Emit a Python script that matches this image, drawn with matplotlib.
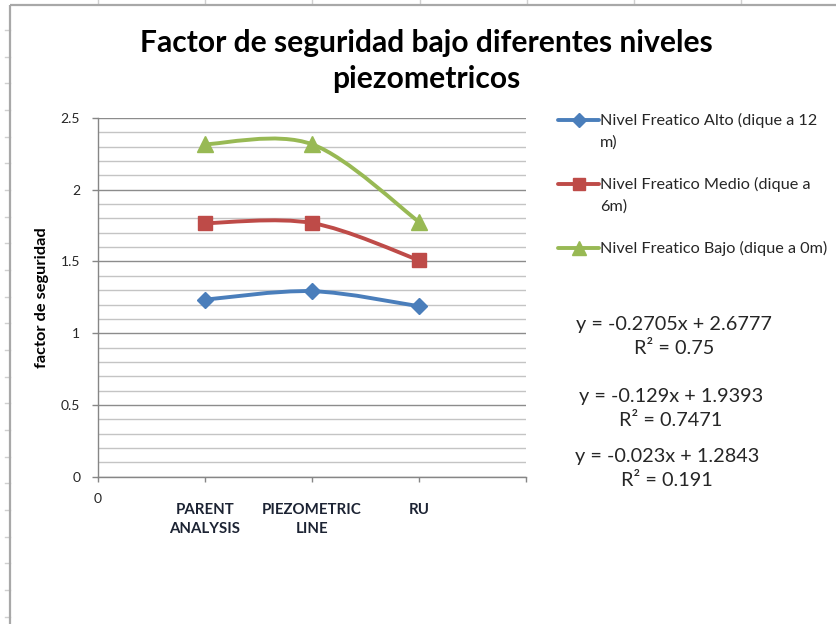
import numpy as np
import matplotlib
matplotlib.use("Agg")
import matplotlib.pyplot as plt
from matplotlib.path import Path
from matplotlib.patches import PathPatch
from matplotlib.lines import Line2D
from matplotlib.ticker import MultipleLocator

plt.rcParams['font.family'] = ['Lato', 'DejaVu Sans']

# ---- data ----
categories = ["PARENT\nANALYSIS", "PIEZOMETRIC\nLINE", "RU"]
cat_pos = [1, 2, 3]

alto = [1.234, 1.293, 1.188]
medio = [1.767, 1.768, 1.509]
bajo = [2.317, 2.317, 1.776]

series_values = [alto, medio, bajo]
series_labels = ["Nivel Freatico Alto (dique a 12\nm)",
                 "Nivel Freatico Medio (dique a\n6m)",
                 "Nivel Freatico Bajo (dique a 0m)"]
series_colors = ["#4A7EBB", "#BE4B48", "#98B954"]
series_markers = ["D", "s", "^"]
series_msize = [8.5, 10.5, 12]

trend_texts = ["y = -0.2705x + 2.6777\nR² = 0.75",
               "y = -0.129x + 1.9393\nR² = 0.7471",
               "y = -0.023x + 1.2843\nR² = 0.191"]

ytick_vals = [0, 0.5, 1, 1.5, 2, 2.5]
ytick_labels = ["0", "0.5", "1", "1.5", "2", "2.5"]

title = "Factor de seguridad bajo diferentes niveles\npiezometricos"
ylabel = "factor de seguridad"

W, H, DPI = 837, 624, 100
TXT = "#262626"
AXIS = "#868686"


def fx(px):
    return px / W


def fy(py):
    return 1 - py / H


def smooth_path(xs, ys):
    """Bezier path through the points (Catmull-Rom style tangents)."""
    pts = np.column_stack([xs, ys]).astype(float)
    n = len(pts)
    verts = [pts[0]]
    codes = [Path.MOVETO]
    for i in range(n - 1):
        p_prev = pts[i - 1] if i > 0 else pts[i]
        p0, p1 = pts[i], pts[i + 1]
        p_next = pts[i + 2] if i + 2 < n else pts[i + 1]
        verts += [p0 + (p1 - p_prev) / 6, p1 - (p_next - p0) / 6, p1]
        codes += [Path.CURVE4] * 3
    return Path(verts, codes)


fig = plt.figure(figsize=(W / DPI, H / DPI), dpi=DPI)
fig.patch.set_facecolor("white")

# ---- main plot area ----
ax = fig.add_axes([fx(98), fy(476.7), fx(526) - fx(98), fy(118) - fy(476.7)])
ax.set_xlim(0, 4)
ax.set_ylim(0, 2.5)

ax.yaxis.set_minor_locator(MultipleLocator(0.1))
ax.set_yticks(ytick_vals, ytick_labels)
ax.grid(which="minor", axis="y", color="#C4C4C4", lw=1.0)
ax.grid(which="major", axis="y", color="#8C8C8C", lw=1.0)
ax.set_axisbelow(True)

ax.set_xticks([0, 1, 2, 3, 4], ["0", "", "", "", ""])
for side in ("top", "right"):
    ax.spines[side].set_visible(False)
for side in ("left", "bottom"):
    ax.spines[side].set_color(AXIS)
    ax.spines[side].set_linewidth(1.0)

ax.tick_params(axis="y", which="major", length=6*0.72, width=1, color=AXIS,
               pad=8.5, labelsize=10, labelcolor=TXT)
ax.tick_params(axis="y", which="minor", length=0)
ax.tick_params(axis="x", which="major", length=5*0.72, width=1, color=AXIS,
               pad=8, labelsize=10, labelcolor=TXT)

for x, lab in zip(cat_pos, categories):
    ax.annotate(lab, xy=(x, 0), xycoords=("data", "axes fraction"),
                xytext=(0, -26 * 0.72), textcoords="offset points",
                ha="center", va="top", fontsize=10.8, fontweight="bold",
                color="#1C2333", linespacing=1.45)

ax.set_ylabel(ylabel, fontsize=11.8, fontweight="bold", color="black", va="center")
ax.yaxis.set_label_coords((42 - 98) / 428, (476.7 - 298) / 358.7)

for vals, color, mk, ms in zip(series_values, series_colors, series_markers, series_msize):
    ax.add_patch(PathPatch(smooth_path(cat_pos, vals), fill=False, edgecolor=color,
                           lw=2.8, capstyle="round", joinstyle="round", zorder=3))
    ax.plot(cat_pos, vals, ls="none", marker=mk, ms=ms, color=color,
            mec=color, zorder=4, clip_on=False)

# ---- title ----
fig.text(fx(426.5), fy(61), title, ha="center", va="center", fontsize=21.6,
         fontweight="bold", color="black", linespacing=1.32)

# ---- overlay in pixel coordinates: frame, legend, trend equations ----
ov = fig.add_axes([0, 0, 1, 1])
ov.set_xlim(0, W)
ov.set_ylim(H, 0)
ov.axis("off")
ov.patch.set_visible(False)

# worksheet grid outside the chart frame
for gx in np.arange(98.3, W, 107.1):
    ov.plot([gx, gx], [0, 4], color="#D0D0D0", lw=1)
for gy in np.arange(30, H + 1, 26.67):
    ov.plot([5.5, 10], [gy, gy], color="#D0D0D0", lw=1)
# chart frame
ov.plot([10.5, 10.5], [4.5, H], color="#A8A8A8", lw=1.6, solid_capstyle="butt")
ov.plot([10.5, W], [4.5, 4.5], color="#A8A8A8", lw=1.6, solid_capstyle="butt")

# legend
leg_y = [120, 184, 248]
for yy, lab, color, mk, ms in zip(leg_y, series_labels, series_colors,
                                   series_markers, series_msize):
    ov.add_line(Line2D([558, 599], [yy, yy], color=color, lw=2.8,
                       solid_capstyle="round"))
    ov.add_line(Line2D([579], [yy], ls="none", marker=mk, ms=ms * 0.8,
                       color=color, mec=color))
    ov.text(600, yy - 7, lab, ha="left", va="top", fontsize=11.7,
            color=TXT, linespacing=1.62)

# trendline equations
eq_x = [674, 671, 667]
eq_y = [336.5, 408.5, 468.5]
for xx, yy, t in zip(eq_x, eq_y, trend_texts):
    ov.text(xx, yy, t, ha="center", va="center", fontsize=14.3,
            color=TXT, linespacing=1.55)

fig.savefig("out.png", dpi=DPI)
